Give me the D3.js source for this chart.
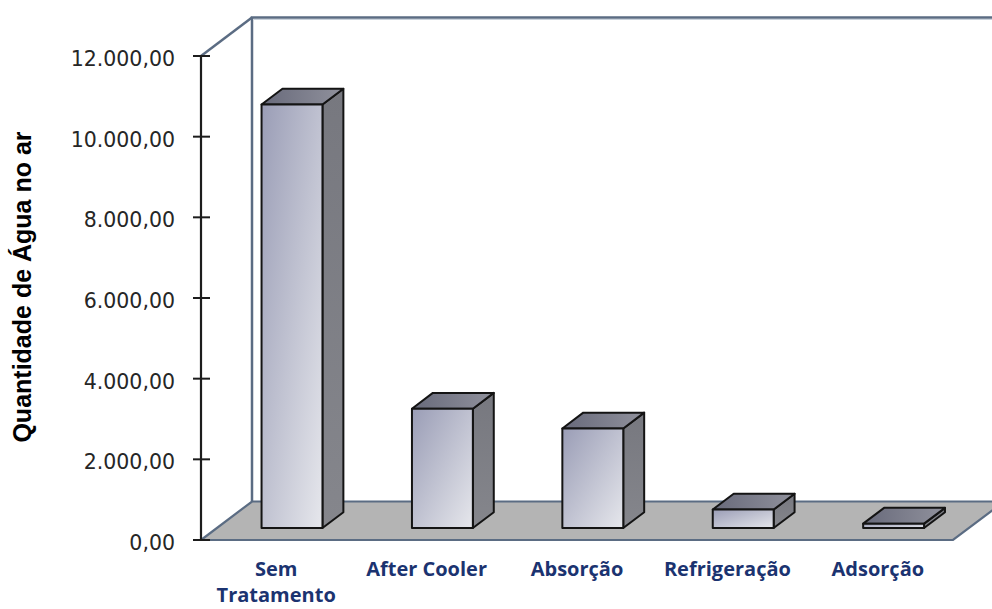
<!DOCTYPE html>
<html>
<head>
<meta charset="utf-8">
<script src="https://cdn.jsdelivr.net/npm/d3@7"></script>
<style>
  html, body { margin: 0; padding: 0; background: #fff; }
  svg { display: block; }
</style>
</head>
<body>
<svg id="chart" width="992" height="609"></svg>
<script>
// Water content in compressed air by treatment method
const categories = ["Sem Tratamento", "After Cooler", "Absorção", "Refrigeração", "Adsorção"];
const values = [10500, 2960, 2470, 460, 110];
const tickValues = [0, 2000, 4000, 6000, 8000, 10000, 12000];
const tickLabels = ["0,00", "2.000,00", "4.000,00", "6.000,00", "8.000,00", "10.000,00", "12.000,00"];
const axisTitle = "Quantidade de Água no ar";

const W = 992, H = 609;
const svg = d3.select("#chart");

// front plane of the plot box and the oblique depth vector
const X0 = 201, X1 = 953, Y0 = 540, Y1 = 56;
const DX = 51, DY = -38.5;

const x = d3.scaleBand().domain(categories).range([X0, X1]);
const y = d3.scaleLinear().domain([0, 12000]).range([Y0, Y1]);

const defs = svg.append("defs");
const gFront = defs.append("linearGradient").attr("id", "gFront")
  .attr("x1", 0).attr("y1", 0).attr("x2", 1).attr("y2", 1);
gFront.append("stop").attr("offset", "0%").attr("stop-color", "#9a9db6");
gFront.append("stop").attr("offset", "100%").attr("stop-color", "#e6e7ec");

const gTop = defs.append("linearGradient").attr("id", "gTop")
  .attr("x1", 0).attr("y1", 0).attr("x2", 1).attr("y2", 0);
gTop.append("stop").attr("offset", "0%").attr("stop-color", "#686a7b");
gTop.append("stop").attr("offset", "100%").attr("stop-color", "#90919c");

const gSide = defs.append("linearGradient").attr("id", "gSide")
  .attr("x1", 0).attr("y1", 0).attr("x2", 0).attr("y2", 1);
gSide.append("stop").attr("offset", "0%").attr("stop-color", "#77787f");
gSide.append("stop").attr("offset", "100%").attr("stop-color", "#85868c");

const wallColor = "#5b6c83";
const line = d3.line();

// floor
const floorPts = [[X0, Y0], [X1, Y0], [X1 + DX, Y0 + DY], [X0 + DX, Y0 + DY]];
svg.append("path")
  .attr("d", line(floorPts) + "Z")
  .attr("fill", "#b4b4b4")
  .attr("stroke", wallColor)
  .attr("stroke-width", 2.2)
  .attr("stroke-linejoin", "miter");

// back wall and side wall edges
const walls = svg.append("g")
  .attr("fill", "none")
  .attr("stroke", wallColor)
  .attr("stroke-width", 2.5);
walls.append("path").attr("d", line([[X0 + DX, Y0 + DY], [X0 + DX, Y1 + DY], [X1 + DX, Y1 + DY]]));
walls.append("path").attr("d", line([[X0, Y1], [X0 + DX, Y1 + DY]]));
// faint highlight under the top edge
svg.append("path")
  .attr("d", line([[X0 + DX + 2, Y1 + DY + 2], [X1 + DX, Y1 + DY + 2]]))
  .attr("stroke", "#c9d2dc").attr("stroke-width", 1).attr("fill", "none");

// bars
const bw = x.bandwidth() * 0.405;
const f0 = 0.31, f1 = 0.72;
const ddx = (f1 - f0) * DX, ddy = (f1 - f0) * DY;

const bars = svg.append("g").selectAll("g")
  .data(categories.map((c, i) => ({ c, v: values[i] })))
  .join("g")
  .attr("stroke", "#141414")
  .attr("stroke-width", 2)
  .attr("stroke-linejoin", "round");

bars.each(function (d) {
  const g = d3.select(this);
  const xl = x(d.c) + (x.bandwidth() - bw) / 2 + f0 * DX;
  const yb = y(0) + f0 * DY;
  const yt = y(d.v) + f0 * DY;
  const xr = xl + bw;
  g.append("path")
    .attr("d", line([[xr, yt], [xr + ddx, yt + ddy], [xr + ddx, yb + ddy], [xr, yb]]) + "Z")
    .attr("fill", "url(#gSide)");
  g.append("path")
    .attr("d", line([[xl, yt], [xl + ddx, yt + ddy], [xr + ddx, yt + ddy], [xr, yt]]) + "Z")
    .attr("fill", "url(#gTop)");
  g.append("rect")
    .attr("x", xl).attr("y", yt)
    .attr("width", bw).attr("height", Math.max(0, yb - yt))
    .attr("fill", "url(#gFront)");
});

// value axis
const axis = svg.append("g").attr("stroke", "#1c1c1c");
axis.append("line")
  .attr("x1", X0).attr("x2", X0).attr("y1", y(12000)).attr("y2", y(0))
  .attr("stroke-width", 2.2);
axis.selectAll(".tick")
  .data(tickValues)
  .join("line")
  .attr("x1", X0 - 8).attr("x2", X0 + 9)
  .attr("y1", d => y(d)).attr("y2", d => y(d))
  .attr("stroke-width", 2);

svg.append("g").selectAll("text")
  .data(tickValues)
  .join("text")
  .attr("x", 175)
  .attr("y", d => y(d) + 10)
  .attr("text-anchor", "end")
  .attr("font-family", "DejaVu Sans")
  .attr("font-size", 20.5)
  .attr("fill", "#262626")
  .text((d, i) => tickLabels[i]);

// axis title
svg.append("text")
  .attr("transform", `translate(31, ${(y(0) + y(12000)) / 2 - 11}) rotate(-90)`)
  .attr("text-anchor", "middle")
  .attr("font-family", "Liberation Sans")
  .attr("font-weight", "bold")
  .attr("font-size", 25)
  .attr("fill", "#000")
  .text(axisTitle);

// category labels (the first one wraps onto two lines)
const catLabels = svg.append("g")
  .attr("font-family", "Open Sans")
  .attr("font-weight", "bold")
  .attr("font-size", 20)
  .attr("fill", "#1b3370")
  .attr("text-anchor", "middle");

categories.forEach(c => {
  const cx = x(c) + x.bandwidth() / 2;
  const lines = c === "Sem Tratamento" ? c.split(" ") : [c];
  const t = catLabels.append("text").attr("x", cx).attr("y", 576);
  lines.forEach((ln, i) => {
    t.append("tspan").attr("x", cx).attr("dy", i === 0 ? 0 : 26).text(ln);
  });
});
</script>
</body>
</html>
